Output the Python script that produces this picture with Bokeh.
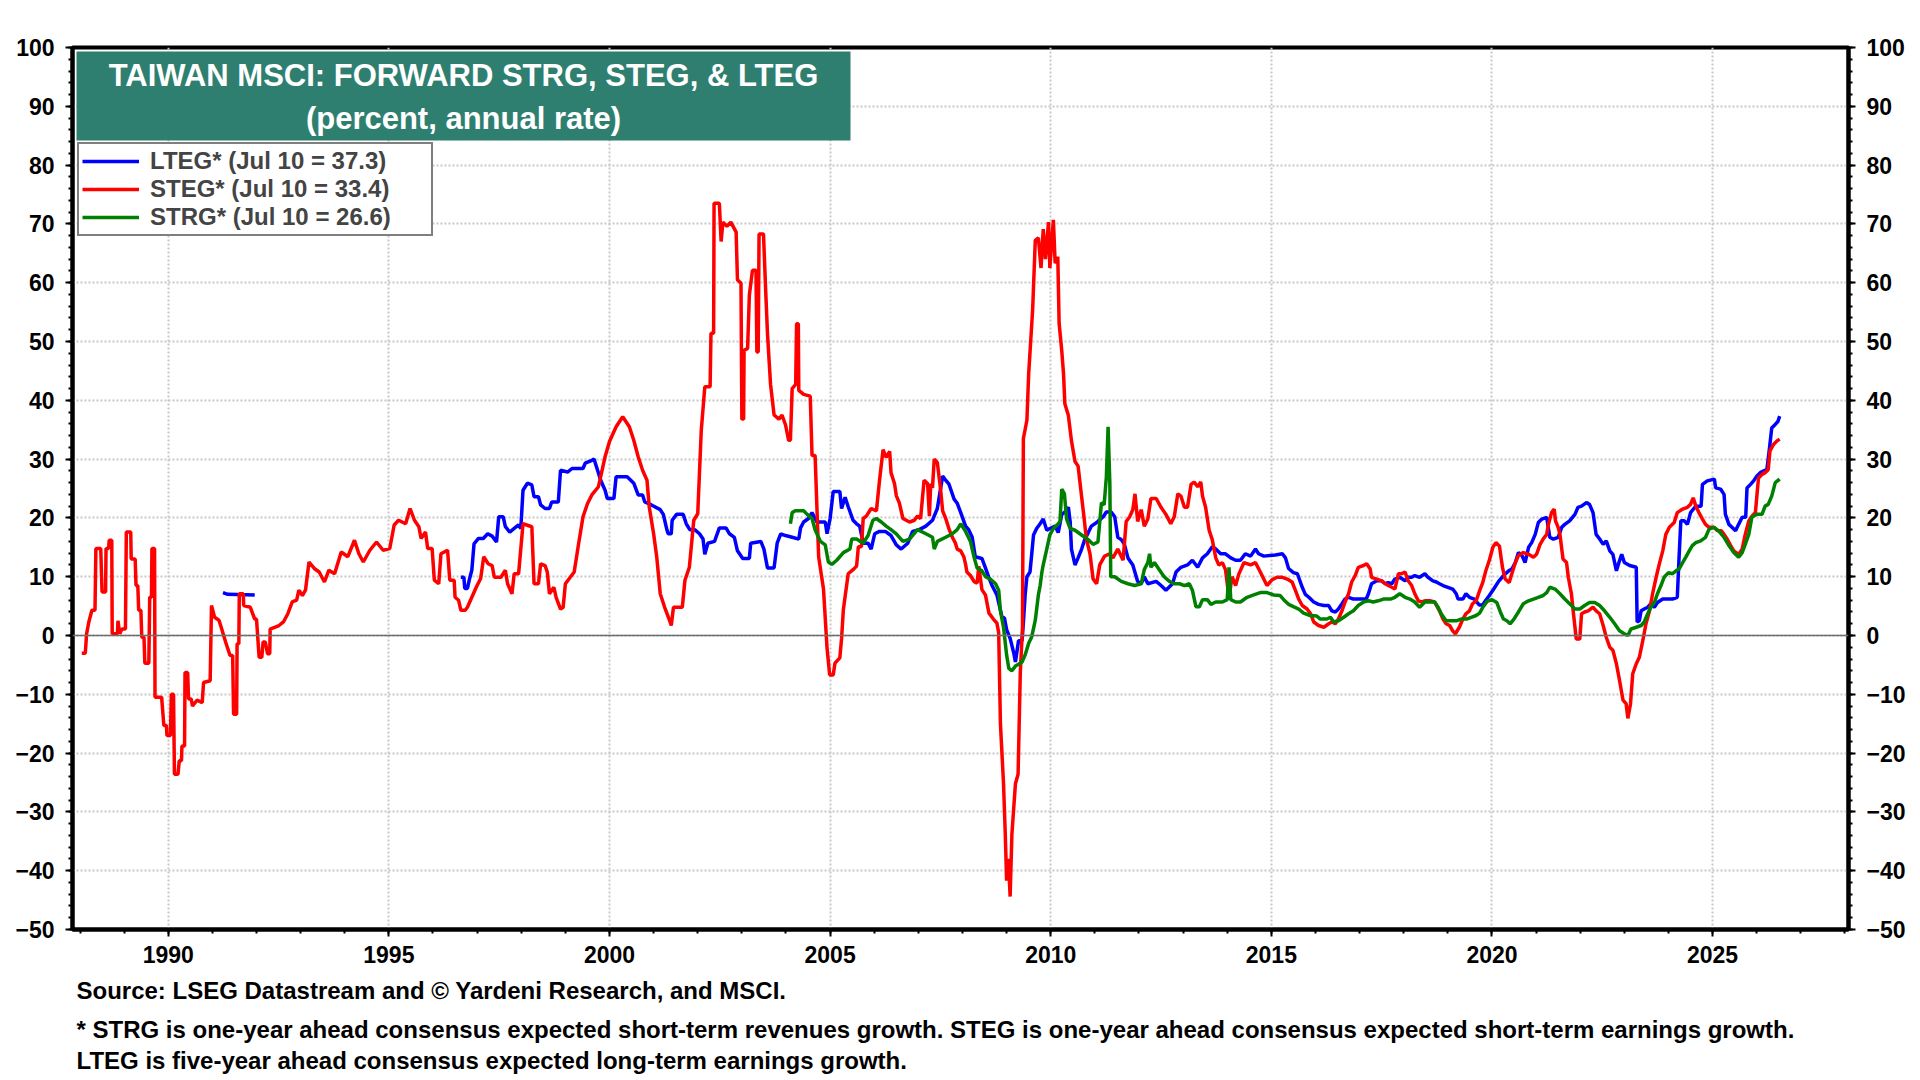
import math
from bokeh.plotting import figure
from bokeh.models import (Range1d, LinearAxis, SingleIntervalTicker, Span, BoxAnnotation,
                          Label, Legend, LegendItem, Title)
from bokeh.embed import file_html
from bokeh.resources import INLINE

# data (decimal year, percent)
lteg_1991 = [(1991.24, 7.3), (1991.35, 7.0), (1991.96, 6.9)]

lteg = [
    (1996.63, 9.9), (1996.7, 9.9), (1996.72, 8.0), (1996.78, 8.0), (1996.83, 9.7), (1996.88, 11.1),
    (1996.93, 15.6), (1997.03, 16.5), (1997.14, 16.5), (1997.24, 17.3), (1997.34, 16.9), (1997.44, 15.9),
    (1997.49, 20.2), (1997.59, 20.2), (1997.64, 18.5), (1997.74, 17.6), (1997.84, 18.2), (1997.94, 18.8),
    (1997.99, 18.2), (1998.04, 24.7), (1998.14, 25.9), (1998.24, 25.6), (1998.29, 23.6), (1998.39, 23.6),
    (1998.44, 22.2), (1998.54, 21.6), (1998.64, 21.6), (1998.69, 22.7), (1998.84, 22.7), (1998.89, 28.1),
    (1999.05, 27.8), (1999.15, 28.4), (1999.4, 28.4), (1999.45, 29.3), (1999.6, 29.8), (1999.65, 30.0),
    (1999.73, 28.1), (1999.8, 26.4), (1999.9, 24.7), (1999.95, 23.3), (2000.1, 23.3), (2000.15, 27.0),
    (2000.4, 27.0), (2000.47, 26.5), (2000.55, 25.9), (2000.65, 23.9), (2000.75, 23.9), (2000.8, 22.7),
    (2000.95, 22.2), (2001.15, 21.4), (2001.22, 20.6), (2001.3, 18.0), (2001.33, 17.3), (2001.4, 17.3),
    (2001.42, 19.6), (2001.52, 20.6), (2001.67, 20.6), (2001.74, 19.0), (2001.82, 18.0), (2001.93, 18.0),
    (2002.04, 17.3), (2002.12, 16.4), (2002.16, 13.8), (2002.23, 15.7), (2002.38, 16.0), (2002.49, 18.3),
    (2002.64, 18.3), (2002.72, 17.3), (2002.83, 16.7), (2002.9, 14.4), (2003.02, 13.1), (2003.17, 13.1),
    (2003.2, 15.7), (2003.43, 16.0), (2003.5, 14.7), (2003.58, 11.5), (2003.73, 11.5), (2003.8, 15.7),
    (2003.88, 17.3), (2003.99, 17.0), (2004.14, 16.7), (2004.29, 16.4), (2004.33, 18.3), (2004.4, 19.3),
    (2004.51, 19.9), (2004.59, 20.9), (2004.7, 19.3), (2004.89, 19.3), (2004.93, 17.3), (2005.0, 19.9),
    (2005.07, 24.5), (2005.22, 24.5), (2005.26, 21.6), (2005.34, 23.5), (2005.41, 21.9), (2005.52, 19.6),
    (2005.6, 19.0), (2005.67, 18.6), (2005.75, 15.7), (2005.86, 15.7), (2005.93, 14.7), (2006.01, 17.3),
    (2006.12, 17.7), (2006.25, 17.7), (2006.38, 17.0), (2006.5, 15.4), (2006.61, 14.7), (2006.76, 15.7),
    (2006.87, 17.7), (2007.02, 18.0), (2007.17, 18.6), (2007.32, 19.6), (2007.43, 21.6), (2007.55, 27.1),
    (2007.62, 26.4), (2007.69, 25.8), (2007.81, 23.2), (2007.88, 22.5), (2007.96, 20.9), (2008.07, 18.6),
    (2008.14, 18.0), (2008.22, 16.7), (2008.29, 13.4), (2008.44, 13.1), (2008.52, 11.5), (2008.59, 10.0),
    (2008.67, 8.5), (2008.78, 6.9), (2008.9, 3.0), (2008.95, 3.0), (2009.0, 1.0), (2009.08, -0.5),
    (2009.16, -2.9), (2009.2, -4.5), (2009.27, -0.9), (2009.35, -0.9), (2009.38, 2.2), (2009.42, 6.9),
    (2009.46, 10.0), (2009.53, 10.8), (2009.57, 13.9), (2009.61, 17.1), (2009.68, 18.2), (2009.76, 19.0),
    (2009.83, 19.8), (2009.91, 17.9), (2009.98, 18.2), (2010.1, 18.6), (2010.17, 17.5), (2010.25, 20.6),
    (2010.32, 21.0), (2010.4, 21.8), (2010.44, 19.4), (2010.47, 14.7), (2010.55, 12.0), (2010.62, 13.2),
    (2010.7, 14.7), (2010.77, 16.3), (2010.85, 17.5), (2010.92, 18.6), (2011.0, 19.0), (2011.07, 19.4),
    (2011.19, 20.2), (2011.26, 21.0), (2011.37, 21.0), (2011.45, 20.2), (2011.52, 16.7), (2011.6, 16.3),
    (2011.67, 15.5), (2011.75, 13.2), (2011.86, 12.0), (2011.97, 9.2), (2012.05, 8.8), (2012.12, 10.0),
    (2012.2, 8.8), (2012.39, 9.2), (2012.5, 8.5), (2012.61, 7.7), (2012.76, 8.8), (2012.84, 10.8),
    (2012.95, 11.6), (2013.1, 12.0), (2013.21, 12.8), (2013.33, 11.6), (2013.44, 13.2), (2013.55, 13.9),
    (2013.66, 15.1), (2013.74, 14.7), (2013.85, 13.9), (2013.96, 13.9), (2014.08, 13.2), (2014.19, 12.8),
    (2014.3, 12.8), (2014.41, 13.9), (2014.53, 13.5), (2014.64, 14.7), (2014.71, 13.9), (2014.83, 13.5),
    (2015.09, 13.7), (2015.25, 13.9), (2015.32, 13.2), (2015.39, 11.4), (2015.5, 10.7), (2015.59, 10.5),
    (2015.7, 8.2), (2015.77, 7.0), (2015.85, 6.5), (2015.96, 5.7), (2016.07, 5.3), (2016.19, 5.1),
    (2016.3, 5.1), (2016.37, 4.2), (2016.45, 4.0), (2016.52, 4.5), (2016.6, 5.4), (2016.67, 6.2),
    (2016.75, 6.5), (2016.86, 6.2), (2017.15, 6.2), (2017.2, 7.1), (2017.27, 8.8), (2017.39, 9.3),
    (2017.5, 9.3), (2017.58, 8.8), (2017.65, 9.0), (2017.73, 8.8), (2017.8, 9.6), (2017.91, 9.9),
    (2018.03, 9.3), (2018.1, 9.9), (2018.18, 9.9), (2018.25, 10.2), (2018.36, 9.9), (2018.48, 10.5),
    (2018.55, 9.9), (2018.66, 9.3), (2018.74, 9.1), (2018.81, 8.8), (2018.89, 8.5), (2019.0, 8.2),
    (2019.11, 7.9), (2019.19, 7.1), (2019.23, 6.2), (2019.34, 6.2), (2019.41, 7.1), (2019.49, 6.5),
    (2019.6, 6.2), (2019.71, 5.2), (2019.79, 5.2), (2019.86, 6.0), (2019.94, 6.8), (2020.04, 7.9),
    (2020.15, 9.2), (2020.26, 10.2), (2020.38, 11.0), (2020.45, 11.3), (2020.53, 12.4), (2020.6, 14.1),
    (2020.68, 13.6), (2020.75, 12.4), (2020.83, 15.0), (2020.9, 15.8), (2020.98, 17.2), (2021.05, 19.2),
    (2021.13, 19.8), (2021.24, 20.1), (2021.31, 16.7), (2021.39, 16.4), (2021.5, 16.7), (2021.58, 18.4),
    (2021.65, 18.9), (2021.76, 19.5), (2021.88, 20.6), (2021.95, 21.8), (2022.03, 22.0), (2022.14, 22.6),
    (2022.21, 22.3), (2022.29, 20.9), (2022.36, 17.2), (2022.44, 16.4), (2022.52, 15.5), (2022.59, 16.1),
    (2022.67, 14.4), (2022.74, 13.8), (2022.82, 11.0), (2022.89, 12.7), (2022.94, 13.8), (2023.0, 12.4),
    (2023.12, 11.9), (2023.27, 11.6), (2023.29, 2.3), (2023.34, 2.5), (2023.38, 4.2), (2023.45, 4.5),
    (2023.53, 4.8), (2023.6, 5.4), (2023.68, 4.8), (2023.75, 5.6), (2023.87, 6.2), (2024.09, 6.2),
    (2024.2, 6.5), (2024.24, 13.3), (2024.28, 19.5), (2024.36, 19.5), (2024.43, 18.9), (2024.5, 20.9),
    (2024.62, 22.0), (2024.74, 22.0), (2024.77, 25.7), (2024.88, 26.3), (2025.04, 26.6), (2025.07, 25.1),
    (2025.18, 24.9), (2025.26, 24.0), (2025.29, 20.6), (2025.37, 18.9), (2025.44, 18.4), (2025.52, 17.8),
    (2025.59, 18.9), (2025.67, 20.1), (2025.75, 20.1), (2025.78, 25.1), (2025.86, 25.7), (2025.93, 26.3),
    (2026.0, 27.1), (2026.08, 27.7), (2026.16, 28.0), (2026.23, 28.2), (2026.29, 31.9), (2026.34, 35.3),
    (2026.42, 35.9), (2026.48, 36.4), (2026.52, 37.3),
]

steg = [
    (1988.04, -3.0), (1988.12, -3.0), (1988.15, 0.3), (1988.2, 2.3), (1988.27, 4.3), (1988.34, 4.3),
    (1988.36, 14.8), (1988.47, 14.8), (1988.5, 7.4), (1988.58, 7.4), (1988.59, 14.8), (1988.65, 14.8),
    (1988.66, 16.2), (1988.72, 16.2), (1988.73, 0.3), (1988.85, 0.3), (1988.86, 2.5), (1988.9, 0.3),
    (1988.95, 1.1), (1989.03, 1.1), (1989.05, 17.6), (1989.15, 17.6), (1989.16, 13.0), (1989.25, 13.0),
    (1989.27, 8.5), (1989.31, 8.5), (1989.33, 4.3), (1989.38, 4.3), (1989.4, -0.3), (1989.45, -0.3),
    (1989.47, -4.7), (1989.56, -4.7), (1989.58, 6.5), (1989.62, 6.5), (1989.63, 14.8), (1989.69, 14.8),
    (1989.7, -10.5), (1989.85, -10.5), (1989.9, -15.3), (1989.96, -15.3), (1989.97, -17.0), (1990.05, -17.0),
    (1990.07, -10.0), (1990.12, -10.0), (1990.14, -23.6), (1990.22, -23.6), (1990.25, -21.3), (1990.3, -21.3),
    (1990.31, -18.8), (1990.37, -18.8), (1990.38, -6.3), (1990.44, -6.3), (1990.46, -10.8), (1990.52, -10.8),
    (1990.55, -12.0), (1990.65, -11.0), (1990.77, -11.4), (1990.8, -8.0), (1990.95, -7.7), (1990.98, 5.1),
    (1991.05, 3.1), (1991.15, 2.6), (1991.2, 1.4), (1991.3, -1.1), (1991.4, -3.4), (1991.46, -3.4),
    (1991.48, -13.4), (1991.55, -13.4), (1991.56, -1.4), (1991.6, -1.4), (1991.61, 7.1), (1991.7, 7.1),
    (1991.71, 5.1), (1991.86, 4.8), (1991.96, 2.8), (1992.0, 2.8), (1992.06, -3.7), (1992.12, -3.7),
    (1992.15, -1.1), (1992.2, -1.1), (1992.25, -3.1), (1992.3, -3.1), (1992.31, 1.1), (1992.41, 1.4),
    (1992.51, 1.7), (1992.61, 2.3), (1992.71, 3.7), (1992.81, 5.7), (1992.91, 6.0), (1992.96, 7.7),
    (1993.04, 6.8), (1993.11, 7.7), (1993.19, 12.5), (1993.31, 11.4), (1993.42, 10.8), (1993.54, 9.1),
    (1993.64, 11.1), (1993.77, 10.5), (1993.92, 14.2), (1994.07, 13.4), (1994.22, 16.2), (1994.32, 13.9),
    (1994.42, 12.5), (1994.57, 14.5), (1994.72, 15.9), (1994.87, 14.5), (1995.02, 14.8), (1995.12, 18.8),
    (1995.22, 19.6), (1995.38, 19.0), (1995.48, 21.6), (1995.58, 19.6), (1995.68, 18.5), (1995.73, 16.5),
    (1995.83, 17.6), (1995.88, 14.8), (1995.98, 14.8), (1996.03, 9.4), (1996.13, 8.8), (1996.18, 13.9),
    (1996.33, 14.5), (1996.38, 9.4), (1996.48, 9.4), (1996.5, 6.5), (1996.58, 6.0), (1996.63, 4.3),
    (1996.73, 4.3), (1996.78, 4.8), (1996.88, 6.5), (1996.98, 8.2), (1997.08, 9.7), (1997.15, 13.4),
    (1997.25, 12.2), (1997.34, 11.9), (1997.39, 9.9), (1997.54, 9.9), (1997.64, 11.1), (1997.69, 8.8),
    (1997.79, 7.1), (1997.84, 10.5), (1997.94, 10.5), (1998.04, 19.0), (1998.24, 18.5), (1998.29, 8.8),
    (1998.39, 8.8), (1998.44, 12.2), (1998.54, 11.9), (1998.59, 10.8), (1998.64, 7.1), (1998.74, 8.2),
    (1998.79, 6.5), (1998.89, 4.5), (1998.95, 4.8), (1999.0, 8.8), (1999.2, 10.8), (1999.3, 15.6),
    (1999.4, 20.2), (1999.5, 22.4), (1999.6, 23.9), (1999.75, 25.3), (1999.9, 30.4), (2000.0, 33.0),
    (2000.15, 35.5), (2000.3, 37.2), (2000.45, 35.5), (2000.55, 33.2), (2000.65, 30.4), (2000.75, 28.1),
    (2000.85, 26.4), (2000.9, 21.9), (2001.0, 17.3), (2001.07, 13.4), (2001.15, 7.1), (2001.25, 4.8),
    (2001.35, 2.8), (2001.4, 1.7), (2001.45, 4.8), (2001.65, 4.8), (2001.71, 9.4), (2001.81, 11.6),
    (2001.91, 19.6), (2002.0, 20.7), (2002.08, 34.9), (2002.16, 42.3), (2002.28, 42.3), (2002.3, 51.4),
    (2002.36, 51.4), (2002.37, 73.5), (2002.49, 73.5), (2002.53, 67.0), (2002.57, 70.3), (2002.66, 69.6),
    (2002.75, 70.3), (2002.87, 68.6), (2002.9, 60.5), (2002.98, 59.9), (2003.0, 36.8), (2003.04, 36.8),
    (2003.05, 48.5), (2003.13, 48.8), (2003.17, 57.9), (2003.24, 62.1), (2003.32, 62.1), (2003.34, 48.2),
    (2003.37, 48.2), (2003.39, 68.3), (2003.49, 68.3), (2003.54, 58.6), (2003.58, 51.4), (2003.65, 42.7),
    (2003.73, 37.5), (2003.84, 36.8), (2003.91, 37.5), (2003.99, 35.8), (2004.06, 33.2), (2004.1, 33.2),
    (2004.14, 42.0), (2004.22, 42.7), (2004.24, 53.0), (2004.28, 53.0), (2004.29, 41.7), (2004.4, 41.0),
    (2004.55, 40.7), (2004.59, 30.6), (2004.66, 30.6), (2004.74, 13.4), (2004.85, 7.9), (2004.93, -2.1),
    (2004.99, -6.7), (2005.07, -6.7), (2005.11, -4.7), (2005.22, -3.8), (2005.26, -0.5), (2005.3, 4.4),
    (2005.41, 10.5), (2005.52, 11.2), (2005.6, 11.8), (2005.64, 15.1), (2005.71, 15.1), (2005.75, 19.9),
    (2005.82, 20.3), (2005.93, 21.6), (2006.05, 21.2), (2006.12, 26.4), (2006.2, 31.6), (2006.27, 30.3),
    (2006.35, 31.3), (2006.38, 27.7), (2006.46, 25.8), (2006.5, 23.8), (2006.57, 22.5), (2006.65, 19.9),
    (2006.8, 19.3), (2006.91, 19.6), (2006.98, 20.3), (2007.05, 19.9), (2007.13, 26.4), (2007.21, 25.8),
    (2007.25, 20.3), (2007.28, 25.8), (2007.32, 25.1), (2007.36, 30.0), (2007.43, 29.4), (2007.5, 25.1),
    (2007.55, 21.2), (2007.62, 19.9), (2007.7, 18.0), (2007.77, 16.7), (2007.84, 15.7), (2007.88, 14.7),
    (2007.96, 14.4), (2008.03, 13.4), (2008.07, 12.1), (2008.1, 10.8), (2008.18, 10.2), (2008.26, 9.2),
    (2008.33, 8.9), (2008.37, 11.8), (2008.44, 7.8), (2008.52, 6.9), (2008.6, 3.8), (2008.7, 2.8),
    (2008.78, 2.1), (2008.82, 0.5), (2008.86, -15.0), (2008.93, -25.2), (2008.97, -33.8), (2009.0, -41.7),
    (2009.04, -38.0), (2009.08, -44.4), (2009.12, -33.8), (2009.2, -25.2), (2009.26, -23.6), (2009.31, -6.4),
    (2009.36, 1.4), (2009.38, 33.5), (2009.46, 36.6), (2009.5, 44.5), (2009.59, 55.4), (2009.65, 67.2),
    (2009.72, 67.6), (2009.78, 62.5), (2009.83, 69.1), (2009.88, 64.0), (2009.95, 70.3), (2009.98, 62.5),
    (2010.06, 70.7), (2010.1, 63.3), (2010.16, 64.4), (2010.19, 53.1), (2010.25, 48.4), (2010.29, 44.5),
    (2010.32, 39.4), (2010.4, 37.4), (2010.47, 33.1), (2010.55, 29.6), (2010.62, 28.8), (2010.68, 24.9),
    (2010.74, 21.0), (2010.81, 16.3), (2010.89, 13.9), (2010.96, 9.6), (2011.04, 8.8), (2011.11, 12.0),
    (2011.22, 13.5), (2011.34, 13.9), (2011.41, 13.2), (2011.52, 14.7), (2011.64, 12.8), (2011.71, 19.4),
    (2011.79, 20.2), (2011.86, 21.4), (2011.91, 24.1), (2011.97, 19.4), (2012.05, 21.4), (2012.12, 18.6),
    (2012.2, 19.8), (2012.27, 23.3), (2012.39, 23.3), (2012.5, 21.8), (2012.61, 20.6), (2012.72, 19.0),
    (2012.8, 20.2), (2012.88, 24.1), (2012.95, 23.7), (2013.03, 21.8), (2013.1, 21.8), (2013.18, 25.7),
    (2013.25, 26.1), (2013.33, 25.3), (2013.4, 26.1), (2013.44, 23.7), (2013.51, 21.8), (2013.59, 17.9),
    (2013.66, 16.3), (2013.74, 13.2), (2013.81, 12.0), (2013.89, 12.4), (2013.96, 11.2), (2014.04, 6.5),
    (2014.11, 10.0), (2014.19, 8.5), (2014.26, 10.4), (2014.38, 12.4), (2014.53, 12.0), (2014.64, 12.4),
    (2014.75, 10.8), (2014.9, 8.5), (2015.02, 9.5), (2015.13, 9.9), (2015.25, 9.9), (2015.36, 9.6),
    (2015.47, 9.1), (2015.55, 7.6), (2015.62, 6.2), (2015.7, 5.1), (2015.81, 4.5), (2015.89, 3.7),
    (2015.96, 2.3), (2016.07, 1.7), (2016.19, 1.4), (2016.3, 2.0), (2016.37, 2.3), (2016.45, 2.0),
    (2016.52, 2.8), (2016.6, 4.2), (2016.67, 5.7), (2016.75, 7.1), (2016.82, 9.1), (2016.9, 10.2),
    (2016.97, 11.6), (2017.09, 11.9), (2017.16, 12.2), (2017.24, 11.3), (2017.27, 9.9), (2017.39, 9.6),
    (2017.5, 9.3), (2017.58, 8.8), (2017.65, 8.5), (2017.73, 8.2), (2017.8, 7.9), (2017.88, 10.5),
    (2017.95, 10.5), (2018.03, 10.8), (2018.1, 9.3), (2018.18, 8.5), (2018.25, 7.1), (2018.33, 5.9),
    (2018.4, 5.7), (2018.48, 5.9), (2018.59, 5.9), (2018.7, 5.7), (2018.81, 4.2), (2018.89, 2.8),
    (2018.96, 2.0), (2019.04, 1.7), (2019.11, 0.8), (2019.17, 0.3), (2019.26, 1.4), (2019.34, 2.8),
    (2019.41, 3.7), (2019.49, 4.2), (2019.56, 5.4), (2019.64, 5.9), (2019.71, 7.4), (2019.79, 9.0),
    (2019.86, 11.0), (2019.94, 12.8), (2020.02, 15.0), (2020.09, 15.8), (2020.17, 15.2), (2020.21, 13.0),
    (2020.24, 11.5), (2020.3, 9.6), (2020.39, 9.0), (2020.45, 10.5), (2020.53, 12.4), (2020.6, 13.6),
    (2020.71, 14.1), (2020.83, 13.8), (2020.94, 13.3), (2021.01, 13.8), (2021.09, 15.5), (2021.16, 16.4),
    (2021.24, 17.2), (2021.28, 18.9), (2021.35, 20.9), (2021.41, 21.5), (2021.44, 19.5), (2021.5, 18.4),
    (2021.54, 17.2), (2021.61, 13.0), (2021.69, 12.4), (2021.73, 9.9), (2021.8, 7.1), (2021.84, 4.2),
    (2021.91, -0.6), (2021.99, -0.6), (2022.03, 3.7), (2022.1, 4.0), (2022.18, 4.2), (2022.29, 4.8),
    (2022.36, 4.2), (2022.44, 3.7), (2022.52, 1.7), (2022.59, -0.3), (2022.67, -2.0), (2022.74, -2.5),
    (2022.82, -4.8), (2022.89, -7.6), (2022.97, -11.0), (2023.04, -11.6), (2023.08, -14.1), (2023.14, -11.6),
    (2023.19, -6.5), (2023.27, -4.8), (2023.34, -3.7), (2023.42, -0.8), (2023.49, 2.0), (2023.57, 4.2),
    (2023.64, 7.1), (2023.72, 9.9), (2023.79, 12.1), (2023.87, 14.4), (2023.94, 17.2), (2024.02, 18.4),
    (2024.13, 19.2), (2024.2, 20.9), (2024.32, 21.5), (2024.43, 21.8), (2024.5, 22.3), (2024.56, 23.4),
    (2024.62, 22.0), (2024.69, 20.9), (2024.77, 19.8), (2024.84, 18.9), (2024.92, 18.4), (2025.03, 18.4),
    (2025.11, 17.8), (2025.2, 17.8), (2025.26, 17.2), (2025.33, 16.4), (2025.41, 15.3), (2025.48, 14.4),
    (2025.59, 13.8), (2025.67, 14.7), (2025.74, 17.2), (2025.82, 19.5), (2025.89, 20.3), (2025.97, 20.9),
    (2026.04, 26.8), (2026.12, 27.4), (2026.19, 27.7), (2026.26, 28.2), (2026.3, 31.4), (2026.38, 32.5),
    (2026.46, 33.1), (2026.52, 33.4),
]

strg = [
    (2004.1, 19.0), (2004.14, 20.9), (2004.21, 21.2), (2004.4, 21.2), (2004.48, 20.6), (2004.59, 19.9),
    (2004.66, 18.0), (2004.78, 16.0), (2004.89, 15.4), (2004.96, 12.5), (2005.04, 12.1), (2005.15, 12.8),
    (2005.3, 14.1), (2005.45, 14.7), (2005.49, 16.4), (2005.6, 16.4), (2005.75, 15.7), (2005.86, 17.0),
    (2005.97, 19.6), (2006.05, 19.9), (2006.16, 19.3), (2006.27, 18.6), (2006.38, 18.0), (2006.5, 17.3),
    (2006.65, 16.0), (2006.8, 16.4), (2006.98, 18.0), (2007.17, 17.3), (2007.32, 16.7), (2007.36, 14.7),
    (2007.43, 16.0), (2007.62, 16.7), (2007.77, 17.3), (2007.88, 18.0), (2007.96, 19.0), (2008.07, 17.7),
    (2008.18, 16.0), (2008.26, 13.4), (2008.33, 11.5), (2008.44, 11.0), (2008.52, 10.0), (2008.63, 9.6),
    (2008.75, 8.8), (2008.82, 7.7), (2008.86, 4.2), (2008.93, 1.4), (2009.0, -3.3), (2009.05, -5.6),
    (2009.12, -6.0), (2009.2, -5.2), (2009.27, -4.9), (2009.35, -4.5), (2009.42, -3.3), (2009.5, -1.3),
    (2009.57, -0.2), (2009.65, 2.6), (2009.72, 6.9), (2009.76, 8.5), (2009.8, 10.8), (2009.83, 12.0),
    (2009.91, 14.7), (2009.98, 17.1), (2010.06, 18.2), (2010.17, 19.0), (2010.21, 19.4), (2010.25, 24.9),
    (2010.31, 24.1), (2010.36, 19.8), (2010.44, 18.2), (2010.55, 17.9), (2010.7, 17.1), (2010.85, 16.3),
    (2010.96, 15.5), (2011.07, 15.9), (2011.15, 22.6), (2011.21, 22.2), (2011.26, 26.9), (2011.3, 35.5),
    (2011.34, 25.7), (2011.36, 10.0), (2011.45, 10.0), (2011.6, 9.2), (2011.75, 8.8), (2011.9, 8.5),
    (2012.05, 8.8), (2012.12, 11.2), (2012.2, 12.4), (2012.24, 13.9), (2012.27, 11.6), (2012.35, 12.4),
    (2012.46, 11.2), (2012.57, 10.0), (2012.69, 9.2), (2012.8, 8.8), (2012.92, 8.8), (2013.03, 8.5),
    (2013.14, 8.8), (2013.21, 7.7), (2013.29, 4.9), (2013.37, 4.9), (2013.44, 6.1), (2013.55, 6.1),
    (2013.63, 5.3), (2013.74, 5.7), (2013.89, 5.7), (2014.0, 6.1), (2014.04, 11.6), (2014.08, 6.1),
    (2014.19, 5.7), (2014.3, 5.7), (2014.45, 6.5), (2014.6, 6.9), (2014.75, 7.3), (2014.9, 7.3),
    (2015.05, 6.9), (2015.2, 6.8), (2015.28, 6.1), (2015.39, 5.3), (2015.5, 4.9), (2015.62, 4.5),
    (2015.73, 3.8), (2015.88, 3.4), (2016.03, 3.3), (2016.11, 2.8), (2016.26, 2.8), (2016.34, 3.1),
    (2016.41, 2.3), (2016.52, 2.5), (2016.64, 3.1), (2016.75, 3.7), (2016.86, 4.2), (2016.97, 5.1),
    (2017.09, 5.7), (2017.2, 5.9), (2017.31, 5.7), (2017.42, 5.9), (2017.54, 6.2), (2017.7, 6.2),
    (2017.8, 6.5), (2017.91, 7.1), (2018.03, 6.5), (2018.14, 6.2), (2018.25, 5.7), (2018.36, 4.8),
    (2018.48, 5.7), (2018.7, 5.7), (2018.78, 4.8), (2018.85, 3.7), (2018.96, 2.5), (2019.19, 2.5),
    (2019.3, 2.8), (2019.42, 2.8), (2019.53, 3.1), (2019.64, 3.4), (2019.72, 3.8), (2019.8, 4.9),
    (2019.89, 5.8), (2020.0, 6.1), (2020.11, 5.6), (2020.19, 4.0), (2020.26, 2.8), (2020.34, 2.5),
    (2020.41, 2.0), (2020.49, 2.7), (2020.6, 4.0), (2020.71, 5.4), (2020.83, 5.9), (2020.94, 6.2),
    (2021.05, 6.5), (2021.16, 6.8), (2021.24, 7.3), (2021.31, 8.2), (2021.43, 7.9), (2021.54, 7.1),
    (2021.65, 6.2), (2021.76, 5.4), (2021.88, 4.5), (2021.99, 4.5), (2022.1, 5.1), (2022.21, 5.6),
    (2022.33, 5.6), (2022.44, 5.1), (2022.55, 4.2), (2022.67, 3.1), (2022.78, 2.0), (2022.89, 0.8),
    (2023.0, 0.3), (2023.08, 0.0), (2023.15, 1.1), (2023.27, 1.4), (2023.38, 1.7), (2023.45, 2.3),
    (2023.53, 3.7), (2023.6, 4.8), (2023.68, 5.6), (2023.75, 7.1), (2023.83, 8.5), (2023.9, 9.9),
    (2024.0, 10.7), (2024.09, 10.5), (2024.17, 11.0), (2024.24, 11.3), (2024.32, 12.4), (2024.39, 13.3),
    (2024.47, 14.4), (2024.54, 15.3), (2024.62, 15.8), (2024.73, 16.1), (2024.84, 16.7), (2024.92, 18.1),
    (2025.03, 18.4), (2025.14, 17.8), (2025.26, 16.7), (2025.37, 15.3), (2025.48, 14.1), (2025.59, 13.3),
    (2025.67, 14.1), (2025.74, 15.5), (2025.82, 17.2), (2025.89, 20.1), (2026.0, 20.6), (2026.12, 20.6),
    (2026.19, 22.0), (2026.26, 22.3), (2026.34, 23.7), (2026.42, 26.0), (2026.52, 26.6),
]

legend_labels = ["LTEG* (Jul 10 = 37.3)", "STEG* (Jul 10 = 33.4)", "STRG* (Jul 10 = 26.6)"]
title_lines = ["TAIWAN MSCI: FORWARD STRG, STEG, & LTEG", "(percent, annual rate)"]
footnotes = [
    "Source: LSEG Datastream and \u00a9 Yardeni Research, and MSCI.",
    "* STRG is one-year ahead consensus expected short-term revenues growth. "
    "STEG is one-year ahead consensus expected short-term earnings growth.",
    "LTEG is five-year ahead consensus expected long-term earnings growth.",
]

FONT = "Liberation Sans"
W, H = 1920, 1080
BL, BR, BT, BB = 72, 72, 47, 151
X0, X1 = 1987.83, 2028.08
Y0, Y1 = -50, 100
FW, FH = W - BL - BR, H - BT - BB


# pixel position on the canvas -> data coordinates
def dx(px):
    return X0 + (px - BL) / FW * (X1 - X0)


def dy(py):
    return Y1 - (py - BT) / FH * (Y1 - Y0)


p = figure(width=W, height=H, x_range=Range1d(X0, X1), y_range=Range1d(Y0, Y1),
           output_backend="svg", toolbar_location=None,
           min_border_left=BL, min_border_right=BR, min_border_top=BT, min_border_bottom=BB)
p.background_fill_color = "white"
p.border_fill_color = "white"
p.outline_line_color = "black"
p.outline_line_width = 4

xt = SingleIntervalTicker(interval=5, num_minor_ticks=5)
yt = SingleIntervalTicker(interval=10, num_minor_ticks=5)
p.xaxis.ticker = xt
p.yaxis.ticker = yt
p.add_layout(LinearAxis(ticker=yt), "right")

for ax in p.axis:
    ax.axis_line_width = 4
    ax.axis_line_color = "black"
    ax.major_tick_line_width = 2
    ax.minor_tick_line_width = 2
    ax.major_tick_in = 0
    ax.minor_tick_in = 0
    ax.major_tick_out = 7
    ax.minor_tick_out = 4
    ax.major_label_text_font = FONT
    ax.major_label_text_font_style = "bold"
    ax.major_label_text_font_size = "23px"
    ax.major_label_text_color = "black"
    ax.major_label_standoff = 11
p.xaxis.major_label_standoff = 9

p.xgrid.ticker = xt
p.ygrid.ticker = yt
for g in (p.xgrid[0], p.ygrid[0]):
    g.grid_line_color = "#c8c8c8"
    g.grid_line_width = 2
    g.grid_line_dash = "2 2"

p.add_layout(Span(location=0, dimension="width", line_color="#6e6e6e", line_width=1.5))


def unzip(pairs):
    xs, ys = zip(*pairs)
    return list(xs), list(ys)


lx, ly = unzip(lteg_1991 + [(math.nan, math.nan)] + lteg)
sx_, sy_ = unzip(steg)
gx, gy = unzip(strg)

r_l = p.line(lx, ly, line_color="#0000ff", line_width=3.5)
r_s = p.line(sx_, sy_, line_color="#ff0000", line_width=3.5)
r_g = p.line(gx, gy, line_color="#008000", line_width=3.5)

# title box
p.add_layout(BoxAnnotation(left=dx(76), right=dx(850), top=dy(51), bottom=dy(140),
                           fill_color="#2f7f71", fill_alpha=1, line_color=None))
for txt, py in zip(title_lines, [75, 117.5]):
    p.add_layout(Label(x=dx(463), y=dy(py), text=txt, text_color="white",
                       text_font=FONT, text_font_style="bold", text_font_size="31px",
                       text_align="center", text_baseline="middle"))

legend = Legend(items=[LegendItem(label=legend_labels[0], renderers=[r_l]),
                       LegendItem(label=legend_labels[1], renderers=[r_s]),
                       LegendItem(label=legend_labels[2], renderers=[r_g])],
                location=(5, 929 - 236))
legend.border_line_color = "black"
legend.border_line_width = 2.5
legend.background_fill_color = "white"
legend.background_fill_alpha = 1
legend.label_text_font = FONT
legend.label_text_font_style = "bold"
legend.label_text_font_size = "24px"
legend.glyph_width = 57
legend.glyph_height = 26
legend.label_height = 26
legend.label_width = 278
legend.label_standoff = 11
legend.padding = 3
legend.spacing = 0
legend.margin = 0
p.add_layout(legend)

# footnotes stacked under the x axis
for txt, gap in zip(footnotes, [19, 1, 2]):
    p.add_layout(Title(text=txt, align="left", offset=4, standoff=gap,
                       text_font=FONT, text_font_style="bold", text_font_size="24px",
                       text_color="black"), "below")

open("out.html", "w").write(file_html(p, INLINE))
